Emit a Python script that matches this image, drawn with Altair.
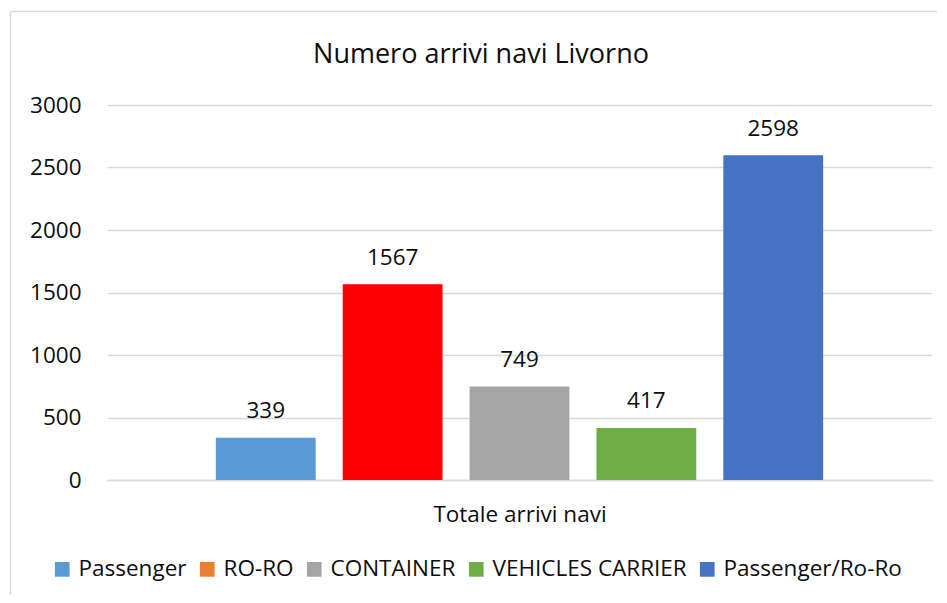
import altair as alt
import pandas as pd

series = ["Passenger", "RO-RO", "CONTAINER", "VEHICLES CARRIER", "Passenger/Ro-Ro"]
values = [339, 1567, 749, 417, 2598]
legend_colors = ["#5B9BD5", "#ED7D31", "#A5A5A5", "#70AD47", "#4472C4"]
ro_ro_bar_color = "#FF0000"
y_ticks = [0, 500, 1000, 1500, 2000, 2500, 3000]
title_text = "Numero arrivi navi Livorno"
x_title = "Totale arrivi navi"

FONT = "Open Sans"
TXT = "#0d0d0d"
GRID = "#D9D9D9"

df = pd.DataFrame({"serie": series, "valore": values})

x_enc = alt.X(
    "serie:N",
    sort=series,
    scale=alt.Scale(domain=series, paddingInner=0.213, paddingOuter=0.858),
    axis=alt.Axis(
        labels=False, ticks=False, title=x_title, titleFont=FONT, titleFontSize=22.5,
        titleFontWeight="normal", titleColor=TXT, titleBaseline="alphabetic", titlePadding=41,
        domainColor=GRID, domainWidth=1.5, grid=False,
    ),
)
y_enc = alt.Y(
    "valore:Q",
    scale=alt.Scale(domain=[0, 3000], nice=False),
    axis=alt.Axis(
        values=y_ticks, format="d", title=None, domain=False, ticks=False, tickSize=0,
        labelPadding=26, labelFont=FONT, labelFontSize=22.5, labelColor=TXT,
        gridColor=GRID, gridWidth=1.5,
    ),
)

bars = alt.Chart(df).mark_bar().encode(
    x=x_enc,
    y=y_enc,
    fill=alt.condition(
        alt.datum.serie == "RO-RO",
        alt.value(ro_ro_bar_color),
        alt.Fill(
            "serie:N",
            sort=series,
            scale=alt.Scale(domain=series, range=legend_colors),
            legend=alt.Legend(
                title=None, orient="none", legendX=-56, legendY=453, direction="horizontal",
                columns=5, symbolType="square", symbolSize=216, symbolStrokeWidth=0,
                labelFont=FONT, labelFontSize=22.5, labelColor=TXT, labelOffset=5,
                columnPadding=9, labelLimit=400, padding=0,
            ),
        ),
    ),
)

labels = alt.Chart(df).mark_text(
    font=FONT, fontSize=22.5, color=TXT, baseline="alphabetic", align="center", dy=-19.5
).encode(x=alt.X("serie:N", sort=series), y="valore:Q", text="valore:Q")

one = pd.DataFrame({"t": [title_text]})
title = alt.Chart(one).mark_text(
    font=FONT, fontSize=27, color=TXT, baseline="alphabetic", align="center"
).encode(x=alt.value(374), y=alt.value(-41.7), text="t:N")

border_top = alt.Chart(one).mark_rule(color=GRID, strokeWidth=1.5).encode(
    x=alt.value(-96.5), x2=alt.value(830), y=alt.value(-93.5)
)
border_left = alt.Chart(one).mark_rule(color=GRID, strokeWidth=1.5).encode(
    x=alt.value(-96.5), y=alt.value(-93.5), y2=alt.value(500)
)

chart = (
    alt.layer(border_top, border_left, bars, labels, title)
    .properties(
        width=825, height=375,
        autosize=alt.AutoSizeParams(type="none"),
        padding={"left": 99, "top": 97, "right": 7, "bottom": 115},
        background="white",
    )
    .configure_view(strokeWidth=0)
)

chart.save("out.html", embed_options={"renderer": "svg", "actions": False})
